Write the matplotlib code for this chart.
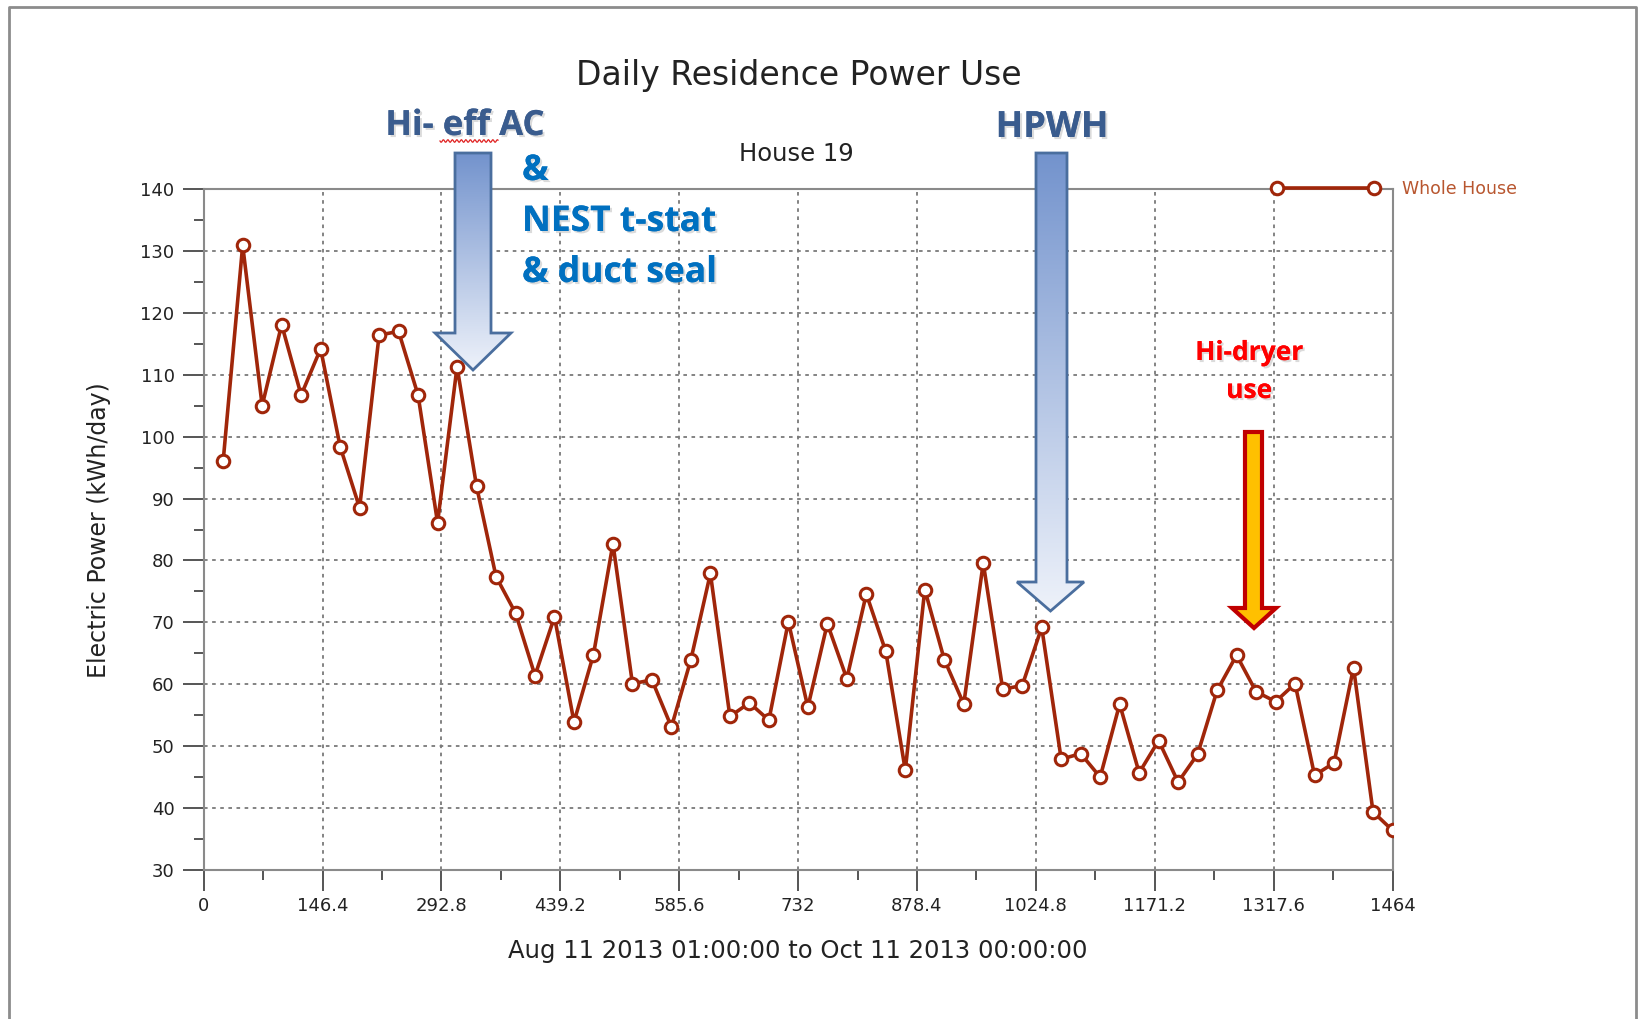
import numpy as np
import matplotlib
matplotlib.use("Agg")
import matplotlib.pyplot as plt
from matplotlib.patches import Polygon
from matplotlib.ticker import MultipleLocator, FixedLocator
import matplotlib.patheffects as pe

W, H = 1638, 1019

# hours since Aug 11 2013 01:00, one reading per day
hours = np.arange(24, 1465, 24)
kwh_day = [96.1, 130.9, 105.0, 118.1, 106.7, 114.2, 98.4, 88.5, 116.4, 117.0,
           106.7, 86.1, 111.3, 92.0, 77.4, 71.5, 61.4, 70.9, 53.9, 64.8,
           82.7, 60.1, 60.7, 53.1, 64.0, 77.9, 54.8, 57.0, 54.2, 70.1,
           56.3, 69.8, 60.9, 74.6, 65.3, 46.1, 75.3, 64.0, 56.8, 79.6,
           59.2, 59.8, 69.2, 47.9, 48.8, 45.0, 56.8, 45.7, 50.9, 44.2,
           48.7, 59.0, 64.7, 58.8, 57.2, 60.1, 45.3, 47.3, 62.7, 39.4, 36.4]
xticks = [0, 146.4, 292.8, 439.2, 585.6, 732, 878.4, 1024.8, 1171.2, 1317.6, 1464]
xtick_labels = ["0", "146.4", "292.8", "439.2", "585.6", "732", "878.4",
                "1024.8", "1171.2", "1317.6", "1464"]
yticks = list(range(30, 141, 10))

red = "#A0260A"


def fx(x):
    return x / W


def fy(y):
    return 1 - y / H


fig = plt.figure(figsize=(W / 100, H / 100), dpi=100)
ax = fig.add_axes([fx(203.7), fy(870), (1392.5 - 203.7) / W, (870 - 189) / H])

ax.plot(hours, kwh_day, color=red, lw=2.6, marker="o", ms=9,
        mfc="#FFFFFF", mec=red, mew=2.2, label="Whole House", zorder=4)

ax.set_xlim(0, 1464)
ax.set_ylim(30, 140)
ax.xaxis.set_major_locator(FixedLocator(xticks))
ax.set_xticklabels(xtick_labels)
ax.xaxis.set_minor_locator(MultipleLocator(73.2))
ax.set_yticks(yticks)
ax.yaxis.set_minor_locator(MultipleLocator(5))

ax.tick_params(axis="both", which="major", length=15, width=1.4, color="#555555",
               labelsize=13, labelcolor="#222222")
ax.tick_params(axis="both", which="minor", length=7.5, width=1.4, color="#555555")
ax.tick_params(axis="y", pad=6)
ax.tick_params(axis="x", pad=4.5)
ax.grid(True, which="major", ls=(0, (2, 2.5)), color="#7a7a7a", lw=1.3)
for s in ax.spines.values():
    s.set_color("#8a8a8a")
    s.set_linewidth(1.5)

leg = ax.legend(loc="center left", bbox_to_anchor=(fx(1272), fy(189)),
                bbox_transform=fig.transFigure, frameon=False, borderpad=0,
                borderaxespad=0, handlelength=6.2, handletextpad=1.3, numpoints=2,
                fontsize=12.5, labelcolor="#B8562F")

fig.text(fx(799), fy(85), "Daily Residence Power Use", ha="center", va="baseline",
         fontsize=23.8, color="#222222")
fig.text(fx(796), fy(161), "House 19", ha="center", va="baseline",
         fontsize=17.5, color="#222222")
fig.text(fx(798), fy(951), "Aug 11 2013 01:00:00 to Oct 11 2013 00:00:00",
         ha="center", va="center", fontsize=17.5, color="#222222")
fig.text(fx(99), fy(530), "Electric Power (kWh/day)", ha="center", va="center",
         rotation=90, fontsize=17, color="#222222")

# overlay in pixel coordinates for the slide annotations
ov = fig.add_axes([0, 0, 1, 1], zorder=5)
ov.patch.set_alpha(0)
ov.axis("off")


def block_arrow(x0, x1, ytop, yhead, hx0, hx1, ytip):
    xc = (hx0 + hx1) / 2
    return [(x0, ytop), (x1, ytop), (x1, yhead), (hx1, yhead), (xc, ytip),
            (hx0, yhead), (x0, yhead)]


def gradient_arrow(verts, top="#7393CD", bottom="#EEF2FA"):
    poly = Polygon(verts, closed=True, facecolor="none", edgecolor="#4A6E9E",
                   lw=2, zorder=3)
    ov.add_patch(poly)
    c0 = np.array(matplotlib.colors.to_rgb(top))
    c1 = np.array(matplotlib.colors.to_rgb(bottom))
    t = np.linspace(0, 1, 256)[:, None, None]
    arr = c0 * (1 - t) + c1 * t
    arr = np.repeat(arr, 2, axis=1)
    xs = [v[0] for v in verts]
    ys = [v[1] for v in verts]
    im = ov.imshow(arr, extent=(min(xs), max(xs), max(ys), min(ys)), aspect="auto",
                   interpolation="bicubic", zorder=2)
    im.set_clip_path(poly)


gradient_arrow(block_arrow(455, 491, 153, 333, 435, 511, 370))
gradient_arrow(block_arrow(1036, 1067, 153, 582, 1017, 1084, 611))

dryer = Polygon(block_arrow(1245, 1262, 432, 608, 1232, 1276, 628), closed=True,
                facecolor="#FFC000", edgecolor="#C00000", lw=3, zorder=3)
ov.add_patch(dryer)

shadow = [pe.withSimplePatchShadow(offset=(1.5, -1.5), shadow_rgbFace="#888888",
                                   alpha=0.3), pe.Normal()]
bold = dict(family="Open Sans", weight="bold")

ov.text(465, 135, "Hi- eff AC", ha="center", va="baseline", fontsize=25,
        color="#3A5C8E", path_effects=shadow, **bold)
wx = np.linspace(440, 498, 80)
ov.plot(wx, 141 + 1.3 * np.sin((wx - 440) * 2 * np.pi / 4.5), color="#E02020", lw=0.9)
ov.text(1052, 137, "HPWH", ha="center", va="baseline", fontsize=26,
        color="#3A5C8E", path_effects=shadow, **bold)

for txt, yb in [("&", 180), ("NEST t-stat", 231), ("& duct seal", 282)]:
    ov.text(522, yb, txt, ha="left", va="baseline", fontsize=25.5, color="#0070C0",
            path_effects=shadow, **bold)

ov.text(1249, 360, "Hi-dryer", ha="center", va="baseline", fontsize=19,
        color="#FF0000", path_effects=shadow, **bold)
ov.text(1249, 398, "use", ha="center", va="baseline", fontsize=19,
        color="#FF0000", path_effects=shadow, **bold)

# slide frame
ov.plot([8.5, 8.5, 1635.5, 1635.5], [H + 5, 6.5, 6.5, H + 5], color="#8c8c8c", lw=2)

ov.set_xlim(0, W)
ov.set_ylim(H, 0)

fig.savefig("out.png", dpi=100, facecolor="white")
